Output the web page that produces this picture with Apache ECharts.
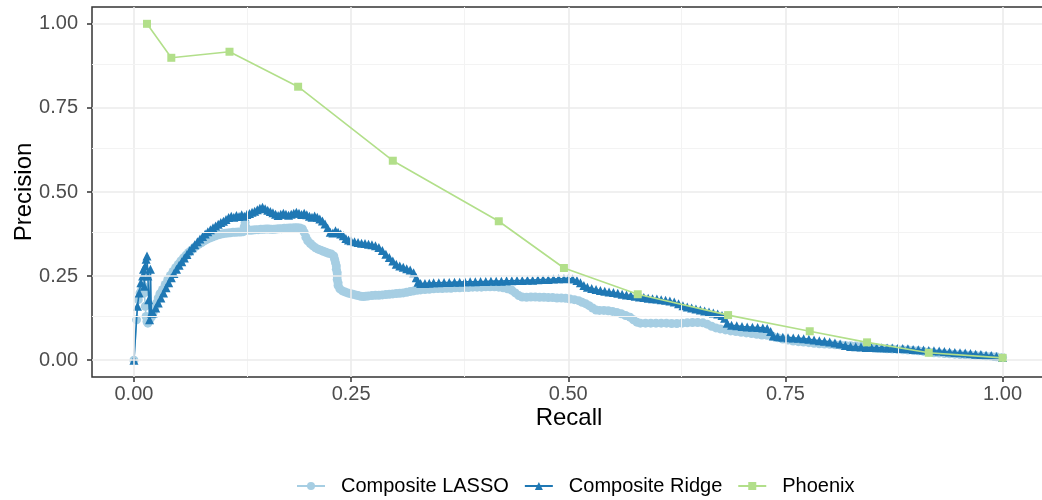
<!DOCTYPE html>
<html>
<head>
<meta charset="utf-8">
<script src="https://cdn.jsdelivr.net/npm/echarts@6/dist/echarts.min.js"></script>
<style>
  html, body { margin: 0; padding: 0; background: #fff; }
  #chart { width: 1042px; height: 500px; }
</style>
</head>
<body>
<div id="chart"></div>
<script>
// Precision-recall curves: [recall, precision]
const lassoPoints = [
  [0,0],[0.003,0.12],[0.005,0.18],[0.007,0.2],[0.009,0.21],[0.011,0.22],[0.012,0.2],[0.013,0.16],
  [0.014,0.13],[0.015,0.115],[0.016,0.11],[0.018,0.12],[0.020,0.128],[0.022,0.14],[0.024,0.155],
  [0.026,0.17],[0.028,0.185],[0.030,0.198],[0.033,0.21],[0.036,0.225],[0.039,0.24],[0.042,0.252],
  [0.045,0.264],[0.048,0.275],[0.051,0.285],[0.054,0.295],[0.057,0.304],[0.060,0.312],[0.063,0.32],
  [0.066,0.327],[0.069,0.334],[0.072,0.34],[0.075,0.345],[0.078,0.35],[0.081,0.355],[0.084,0.359],
  [0.087,0.363],[0.090,0.366],[0.093,0.369],[0.096,0.372],[0.099,0.374],[0.102,0.376],[0.105,0.377],
  [0.108,0.378],[0.111,0.379],[0.114,0.38],[0.117,0.38],[0.120,0.381],[0.123,0.381],[0.126,0.382],
  [0.127,0.397],[0.128,0.41],[0.129,0.395],[0.131,0.387],[0.134,0.386],[0.137,0.387],[0.140,0.388],
  [0.143,0.388],[0.146,0.389],[0.149,0.389],[0.152,0.39],[0.155,0.39],[0.158,0.389],[0.161,0.389],
  [0.164,0.39],[0.167,0.391],[0.170,0.391],[0.173,0.392],[0.176,0.392],[0.179,0.393],[0.182,0.393],
  [0.185,0.394],[0.188,0.394],[0.191,0.393],[0.194,0.39],[0.196,0.38],[0.198,0.365],[0.200,0.355],
  [0.203,0.347],[0.206,0.34],[0.209,0.334],[0.212,0.33],[0.215,0.327],[0.218,0.324],[0.221,0.321],
  [0.224,0.318],[0.227,0.316],[0.230,0.31],[0.231,0.3],[0.232,0.29],[0.233,0.28],[0.233,0.27],
  [0.234,0.26],[0.234,0.25],[0.234,0.24],[0.235,0.23],[0.235,0.222],[0.237,0.212],
  [0.240,0.206],[0.243,0.203],[0.246,0.2],[0.249,0.198],[0.252,0.196],[0.255,0.194],[0.258,0.192],
  [0.261,0.19],[0.264,0.189],[0.267,0.19],[0.270,0.191],[0.274,0.192],[0.278,0.193],[0.282,0.193],
  [0.286,0.194],[0.290,0.195],[0.294,0.196],[0.298,0.197],[0.302,0.198],[0.306,0.199],[0.310,0.2],
  [0.314,0.202],[0.318,0.204],[0.322,0.206],[0.326,0.208],[0.330,0.209],[0.335,0.21],[0.340,0.211],
  [0.345,0.212],[0.350,0.213],[0.355,0.213],[0.360,0.214],[0.365,0.214],[0.370,0.215],[0.375,0.215],
  [0.380,0.216],[0.385,0.216],[0.390,0.217],[0.395,0.217],[0.400,0.217],[0.405,0.218],[0.410,0.218],
  [0.415,0.218],[0.420,0.217],[0.425,0.215],[0.430,0.212],[0.435,0.208],[0.439,0.2],[0.443,0.192],
  [0.447,0.188],[0.452,0.187],[0.457,0.188],[0.462,0.188],[0.467,0.187],[0.472,0.187],[0.477,0.186],
  [0.482,0.186],[0.487,0.185],[0.492,0.185],[0.497,0.184],[0.502,0.182],[0.507,0.18],[0.512,0.177],
  [0.516,0.172],[0.520,0.168],[0.524,0.162],[0.528,0.155],[0.532,0.149],[0.536,0.148],[0.541,0.148],
  [0.546,0.147],[0.551,0.145],[0.556,0.142],[0.561,0.138],[0.566,0.133],[0.571,0.128],[0.575,0.12],
  [0.579,0.113],[0.583,0.11],[0.589,0.11],[0.595,0.11],[0.601,0.11],[0.607,0.11],[0.613,0.11],
  [0.619,0.109],[0.625,0.109],[0.631,0.11],[0.637,0.111],[0.643,0.112],[0.649,0.112],[0.655,0.111],
  [0.660,0.107],[0.665,0.101],[0.670,0.096],[0.675,0.093],[0.681,0.09],[0.687,0.087],[0.693,0.085],
  [0.699,0.083],[0.705,0.081],[0.711,0.079],[0.717,0.077],[0.723,0.075],[0.729,0.074],[0.735,0.071],
  [0.741,0.067],[0.747,0.063],[0.753,0.06],[0.759,0.057],[0.765,0.055],[0.771,0.054],[0.777,0.052],
  [0.783,0.05],[0.789,0.049],[0.795,0.048],[0.801,0.047],[0.807,0.046],[0.813,0.045],[0.819,0.044],
  [0.825,0.043],[0.831,0.042],[0.837,0.041],[0.843,0.04],[0.849,0.038],[0.855,0.036],[0.861,0.035],
  [0.867,0.034],[0.873,0.033],[0.879,0.032],[0.885,0.031],[0.891,0.03],[0.897,0.029],[0.903,0.028],
  [0.909,0.026],[0.915,0.024],[0.921,0.022],[0.927,0.021],[0.933,0.02],[0.939,0.019],[0.945,0.018],
  [0.951,0.017],[0.957,0.016],[0.963,0.015],[0.969,0.014],[0.975,0.013],[0.981,0.012],[0.987,0.011],
  [0.993,0.01],[1.0,0.008]
];

const ridgePoints = [
  [0,0],[0.004,0.16],[0.006,0.2],[0.008,0.23],[0.010,0.25],[0.011,0.27],[0.012,0.22],[0.013,0.28],
  [0.014,0.30],[0.015,0.31],[0.016,0.25],[0.017,0.18],[0.018,0.12],[0.019,0.27],[0.020,0.14],
  [0.022,0.14],[0.025,0.155],[0.028,0.17],[0.031,0.185],[0.034,0.2],[0.037,0.215],[0.040,0.23],
  [0.043,0.245],[0.046,0.258],[0.049,0.27],[0.052,0.282],[0.055,0.293],[0.058,0.304],[0.061,0.314],
  [0.064,0.325],[0.067,0.334],[0.070,0.343],[0.073,0.352],[0.076,0.36],[0.079,0.368],[0.082,0.375],
  [0.085,0.382],[0.088,0.388],[0.091,0.394],[0.094,0.399],[0.097,0.404],[0.100,0.409],[0.103,0.413],
  [0.106,0.418],[0.109,0.424],[0.112,0.428],[0.115,0.425],[0.118,0.43],[0.121,0.427],[0.124,0.432],
  [0.127,0.428],[0.130,0.433],[0.133,0.436],[0.136,0.44],[0.139,0.443],[0.142,0.447],[0.145,0.452],
  [0.148,0.455],[0.151,0.45],[0.154,0.446],[0.157,0.442],[0.160,0.438],[0.163,0.434],[0.166,0.43],
  [0.169,0.434],[0.172,0.437],[0.175,0.434],[0.178,0.431],[0.181,0.434],[0.184,0.437],[0.187,0.44],
  [0.190,0.437],[0.193,0.433],[0.196,0.437],[0.199,0.432],[0.202,0.428],[0.205,0.425],[0.208,0.429],
  [0.211,0.425],[0.214,0.42],[0.217,0.414],[0.220,0.405],[0.223,0.393],[0.226,0.38],[0.229,0.378],
  [0.232,0.385],[0.235,0.38],[0.238,0.375],[0.241,0.37],[0.244,0.362],[0.247,0.357],[0.250,0.355],
  [0.254,0.352],[0.258,0.35],[0.262,0.348],[0.266,0.347],[0.270,0.345],[0.274,0.343],[0.278,0.34],
  [0.282,0.335],[0.286,0.326],[0.290,0.315],[0.294,0.305],[0.298,0.295],[0.302,0.285],[0.306,0.28],
  [0.310,0.276],[0.314,0.272],[0.318,0.268],[0.322,0.26],[0.325,0.245],[0.327,0.232],[0.330,0.228],
  [0.335,0.228],[0.340,0.229],[0.345,0.23],[0.351,0.23],[0.357,0.231],[0.363,0.231],[0.369,0.232],
  [0.375,0.232],[0.381,0.233],[0.387,0.233],[0.393,0.233],[0.399,0.234],[0.405,0.234],[0.411,0.235],
  [0.417,0.235],[0.423,0.235],[0.429,0.236],[0.435,0.236],[0.441,0.237],[0.447,0.237],[0.453,0.238],
  [0.459,0.238],[0.465,0.239],[0.471,0.24],[0.477,0.24],[0.483,0.241],[0.489,0.242],[0.495,0.242],
  [0.500,0.243],[0.505,0.241],[0.510,0.237],[0.514,0.23],[0.518,0.222],[0.522,0.217],[0.527,0.213],
  [0.532,0.21],[0.537,0.207],[0.542,0.205],[0.547,0.203],[0.552,0.201],[0.557,0.199],[0.562,0.196],
  [0.567,0.194],[0.572,0.192],[0.577,0.19],[0.582,0.188],[0.587,0.186],[0.592,0.184],[0.597,0.183],
  [0.602,0.182],[0.607,0.18],[0.612,0.178],[0.617,0.176],[0.622,0.173],[0.627,0.168],[0.632,0.162],
  [0.637,0.158],[0.642,0.155],[0.647,0.152],[0.652,0.149],[0.657,0.146],[0.662,0.143],[0.667,0.14],
  [0.672,0.137],[0.677,0.133],[0.680,0.125],[0.683,0.11],[0.688,0.104],[0.694,0.102],[0.700,0.1],
  [0.706,0.099],[0.712,0.098],[0.718,0.097],[0.724,0.096],[0.729,0.094],[0.733,0.085],[0.736,0.072],
  [0.741,0.07],[0.747,0.068],[0.753,0.067],[0.759,0.066],[0.765,0.065],[0.771,0.064],[0.777,0.062],
  [0.783,0.06],[0.789,0.058],[0.795,0.056],[0.801,0.054],[0.807,0.051],[0.813,0.048],[0.819,0.044],
  [0.825,0.041],[0.831,0.04],[0.837,0.039],[0.843,0.038],[0.849,0.038],[0.855,0.037],[0.861,0.037],
  [0.867,0.036],[0.873,0.036],[0.879,0.035],[0.885,0.035],[0.891,0.034],[0.897,0.032],[0.903,0.031],
  [0.909,0.03],[0.915,0.029],[0.921,0.028],[0.927,0.027],[0.933,0.026],[0.939,0.024],[0.945,0.023],
  [0.951,0.022],[0.957,0.021],[0.963,0.02],[0.969,0.018],[0.975,0.017],[0.981,0.015],[0.987,0.014],
  [0.993,0.011],[1.0,0.008]
];

const phoenixPoints = [
  [0.015,1.0],[0.043,0.899],[0.110,0.917],[0.189,0.813],[0.298,0.593],[0.420,0.413],
  [0.495,0.274],[0.580,0.196],[0.684,0.134],[0.778,0.086],[0.844,0.053],[0.915,0.022],[1.0,0.007]
];

const seriesNames = ['Composite LASSO', 'Composite Ridge', 'Phoenix'];
const seriesColors = ['#a6cee3', '#1f78b4', '#b2df8a'];

const majorBreaks = [0, 0.25, 0.5, 0.75, 1];
const minorBreaks = [0.125, 0.375, 0.625, 0.875];
const tickLabels = ['0.00', '0.25', '0.50', '0.75', '1.00'];

const labelFont = 'Liberation Sans, Arial, sans-serif';

// Panel grid lines at the major and minor breaks
function gridLines(axisKey) {
  const lines = [];
  minorBreaks.forEach(v => lines.push({ [axisKey]: v, lineStyle: { color: '#f3f3f3', width: 1, type: 'solid' } }));
  majorBreaks.forEach(v => lines.push({ [axisKey]: v, lineStyle: { color: '#ebebeb', width: 1.6, type: 'solid' } }));
  return lines;
}

const chart = echarts.init(document.getElementById('chart'), null, { renderer: 'canvas' });

const axisCommon = {
  type: 'value',
  splitLine: { show: false },
  axisLine: { show: false, onZero: false },
  axisTick: { show: true, length: 5, customValues: majorBreaks, lineStyle: { color: '#333', width: 1.5 } },
  axisLabel: {
    customValues: majorBreaks,
    color: '#4d4d4d',
    fontSize: 20,
    fontFamily: labelFont,
    formatter: v => tickLabels[majorBreaks.indexOf(Math.round(v * 1000) / 1000)] || ''
  },
  nameMoveOverlap: false,
  nameTextStyle: { color: '#000', fontSize: 24, fontFamily: labelFont }
};

chart.setOption({
  animation: false,
  backgroundColor: '#ffffff',
  grid: {
    left: 92, top: 7, width: 954, height: 370,
    outerBoundsMode: 'none',
    containLabel: false,
    show: true, borderColor: '#333', borderWidth: 1.5, backgroundColor: 'transparent'
  },
  xAxis: Object.assign({}, axisCommon, {
    min: -0.0483, max: 1.05,
    name: 'Recall', nameLocation: 'middle', nameGap: 29,
    axisLabel: Object.assign({}, axisCommon.axisLabel, { margin: 7 })
  }),
  yAxis: Object.assign({}, axisCommon, {
    min: -0.05, max: 1.05,
    name: 'Precision', nameLocation: 'middle', nameGap: 56,
    axisLabel: Object.assign({}, axisCommon.axisLabel, { margin: 14 })
  }),
  legend: {
    top: 471,
    left: 291,
    itemWidth: 28,
    itemHeight: 10,
    itemGap: 15,
    textStyle: { color: '#000', fontSize: 20, fontFamily: labelFont, padding: [0, 0, 0, 11] },
    data: seriesNames
  },
  series: [
    {
      name: 'grid',
      type: 'line',
      data: [],
      z: 1,
      silent: true,
      markLine: {
        silent: true,
        symbol: 'none',
        label: { show: false },
        animation: false,
        data: gridLines('xAxis').concat(gridLines('yAxis'))
      }
    },
    {
      name: seriesNames[0],
      type: 'line',
      data: lassoPoints,
      z: 3,
      color: seriesColors[0],
      symbol: 'circle',
      symbolSize: 9,
      showAllSymbol: true,
      sampling: 'none',
      lineStyle: { width: 1.6, color: seriesColors[0] },
      itemStyle: { color: seriesColors[0] }
    },
    {
      name: seriesNames[1],
      type: 'line',
      data: ridgePoints,
      z: 4,
      color: seriesColors[1],
      symbol: 'triangle',
      symbolSize: 9,
      showAllSymbol: true,
      sampling: 'none',
      lineStyle: { width: 1.6, color: seriesColors[1] },
      itemStyle: { color: seriesColors[1] }
    },
    {
      name: seriesNames[2],
      type: 'line',
      data: phoenixPoints,
      z: 5,
      color: seriesColors[2],
      symbol: 'rect',
      symbolSize: 8,
      showAllSymbol: true,
      lineStyle: { width: 1.6, color: seriesColors[2] },
      itemStyle: { color: seriesColors[2] }
    }
  ]
});
</script>
</body>
</html>
